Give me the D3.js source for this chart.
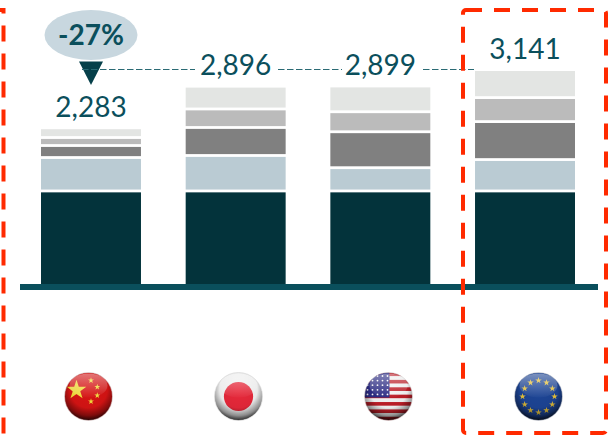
<!DOCTYPE html>
<html>
<head>
<meta charset="utf-8">
<style>
html,body{margin:0;padding:0;background:#fff;overflow:hidden}
svg{display:block}
text{font-family:Lato,"Open Sans",sans-serif}
</style>
<script src="https://cdn.jsdelivr.net/npm/d3@7/dist/d3.min.js"></script>
</head>
<body>
<svg id="chart" width="614" height="438"></svg>
<script>
// Stacked cost totals per region, bottom segment first
const regions = ["China", "Japan", "USA", "EU"];
const totals = [2283, 2896, 2899, 3141];
const segmentBase = [1372, 1372, 1372, 1372];
const segmentSecond = [493, 523, 343, 463];
const segmentThird = [177, 413, 530, 560];
const segmentFourth = [118, 273, 295, 354];
const segmentTop = [123, 315, 359, 392];
const segmentColors = ["#03333b", "#bacbd3", "#808080", "#bbbbbb", "#e3e5e3"];
const deltaLabel = "-27%";

const svg = d3.select("#chart");
const baseY = 284;
const segmentGap = 2.8;

const x = d3.scaleBand().domain(regions).range([41, 575]).paddingInner(0.309).paddingOuter(0);
const y = d3.scaleLinear().domain([0, 3141]).range([baseY, 71]);
const flagX = d3.scalePoint().domain(regions).range([88.5, 538.5]);

const seriesRows = regions.map((r, i) => ({
  region: r,
  s0: segmentBase[i], s1: segmentSecond[i], s2: segmentThird[i], s3: segmentFourth[i], s4: segmentTop[i]
}));
const stacked = d3.stack().keys(["s0", "s1", "s2", "s3", "s4"])(seriesRows);

const defs = svg.append("defs");

// Sphere shading shared by the flag badges
const shade = defs.append("radialGradient").attr("id", "shade")
  .attr("cx", "50%").attr("cy", "34%").attr("r", "68%");
shade.append("stop").attr("offset", "0%").attr("stop-color", "#000").attr("stop-opacity", 0);
shade.append("stop").attr("offset", "58%").attr("stop-color", "#000").attr("stop-opacity", 0.05);
shade.append("stop").attr("offset", "82%").attr("stop-color", "#000").attr("stop-opacity", 0.42);
shade.append("stop").attr("offset", "100%").attr("stop-color", "#000").attr("stop-opacity", 0.92);
const gloss = defs.append("linearGradient").attr("id", "gloss").attr("x1", 0).attr("x2", 0).attr("y1", 0).attr("y2", 1);
gloss.append("stop").attr("offset", "0%").attr("stop-color", "#fff").attr("stop-opacity", 0.42);
gloss.append("stop").attr("offset", "100%").attr("stop-color", "#fff").attr("stop-opacity", 0.02);

// Stacked bars, each segment inset so white gaps show between them
svg.append("g").selectAll("g").data(stacked).join("g")
  .attr("fill", (d, i) => segmentColors[i])
  .each(function (layer, li) {
    d3.select(this).selectAll("rect").data(layer).join("rect")
      .attr("x", d => x(d.data.region))
      .attr("width", x.bandwidth())
      .attr("y", d => y(d[1]) + (li === stacked.length - 1 ? 0 : segmentGap / 2))
      .attr("height", d => y(d[0]) - y(d[1]) - (li === 0 ? segmentGap / 2 : li === stacked.length - 1 ? segmentGap / 2 : segmentGap));
  });

// Baseline
svg.append("rect").attr("x", 20).attr("y", baseY).attr("width", 578).attr("height", 6).attr("fill", "#0a4f5c");

// Delta bubble and marker
svg.append("ellipse").attr("cx", 91).attr("cy", 35).attr("rx", 46.5).attr("ry", 25).attr("fill", "#c8d7df");
svg.append("text").attr("x", 91).attr("y", 45).attr("text-anchor", "middle")
  .attr("font-size", 28).attr("font-weight", 700).attr("fill", "#0b4f5c").text(deltaLabel);
svg.append("path").attr("d", d3.line()([[79, 61.5], [103, 61.5], [91, 85]]) + "Z").attr("fill", "#06404a");

// Dashed reference line from the delta marker to the top bar
const dashY = 69.5;
[[82, 195], [278, 342], [423, 474]].forEach(([a, b]) => {
  svg.append("line").attr("x1", a).attr("x2", b).attr("y1", dashY).attr("y2", dashY)
    .attr("stroke", "#2a6a74").attr("stroke-width", 1).attr("stroke-dasharray", "6.5 2.5");
});

// Total labels
svg.append("g").selectAll("text").data(regions).join("text")
  .attr("x", r => x(r) + x.bandwidth() / 2)
  .attr("y", (r, i) => y(totals[i]) - 12.5)
  .attr("text-anchor", "middle").attr("font-size", 28).attr("fill", "#0b4f5c")
  .text((r, i) => d3.format(",")(totals[i]));

// Flag badges
const R = 24;
const star = d3.symbol().type(d3.symbolStar);

function badge(region, paint) {
  const id = "clip-" + region;
  defs.append("clipPath").attr("id", id).append("circle").attr("r", R);
  const g = svg.append("g").attr("transform", `translate(${flagX(region)},396.5)`);
  const inner = g.append("g").attr("clip-path", `url(#${id})`);
  paint(inner);
  inner.append("circle").attr("r", R).attr("fill", "url(#shade)");
  inner.append("ellipse").attr("cy", -11).attr("rx", 19).attr("ry", 12).attr("fill", "url(#gloss)");
  g.append("circle").attr("r", R).attr("fill", "none").attr("stroke", "#cfcfcf").attr("stroke-width", 0.6);
}

const chinaStars = [[-12, -6.5, 120], [2.5, -16, 11], [8.8, -9.5, 11], [8.8, -1, 11], [2.5, 5, 11]];
badge("China", g => {
  g.append("rect").attr("x", -R).attr("y", -R).attr("width", 2 * R).attr("height", 2 * R).attr("fill", "#d81414");
  g.selectAll("path.s").data(chinaStars).join("path").attr("class", "s")
    .attr("d", d => star.size(d[2])())
    .attr("transform", d => `translate(${d[0]},${d[1]})`).attr("fill", "#f4de3c");
});

badge("Japan", g => {
  g.append("rect").attr("x", -R).attr("y", -R).attr("width", 2 * R).attr("height", 2 * R).attr("fill", "#f4f4f4");
  g.append("circle").attr("cy", 0).attr("r", 14.6).attr("fill", "#e8283a");
});

const usStripes = d3.range(13);
const usStarGrid = d3.cross(d3.range(5), d3.range(5));
badge("USA", g => {
  const stripe = d3.scaleBand().domain(usStripes).range([-R, R]);
  g.selectAll("rect.st").data(usStripes).join("rect").attr("class", "st")
    .attr("x", -R).attr("width", 2 * R).attr("y", d => stripe(d)).attr("height", stripe.bandwidth() + 0.2)
    .attr("fill", d => d % 2 ? "#f6f6f6" : "#c01e28");
  g.append("rect").attr("x", -R).attr("y", -R).attr("width", 25).attr("height", 25).attr("fill", "#2c2c86");
  g.selectAll("circle.us").data(usStarGrid).join("circle").attr("class", "us")
    .attr("cx", d => -R + 3 + d[0] * 5).attr("cy", d => -R + 3.5 + d[1] * 4.6).attr("r", 0.9).attr("fill", "#fff");
});

const euStars = d3.range(12);
badge("EU", g => {
  g.append("rect").attr("x", -R).attr("y", -R).attr("width", 2 * R).attr("height", 2 * R).attr("fill", "#1d4596");
  g.selectAll("path.e").data(euStars).join("path").attr("class", "e")
    .attr("d", star.size(13)())
    .attr("transform", d => {
      const a = d / 12 * 2 * Math.PI;
      return `translate(${16 * Math.sin(a)},${-16 * Math.cos(a)})`;
    }).attr("fill", "#e8c33c");
});

// Red dashed highlight frames
svg.append("rect").attr("x", 463).attr("y", 10).attr("width", 143).attr("height", 423).attr("rx", 3)
  .attr("fill", "none").attr("stroke", "#ff2a00").attr("stroke-width", 4).attr("stroke-dasharray", "16 12");
svg.append("path").attr("d", d3.line()([[-2, 10], [3.5, 10], [3.5, 438]]))
  .attr("fill", "none").attr("stroke", "#ff2a00").attr("stroke-width", 4)
  .attr("stroke-dasharray", "16 12").attr("stroke-dashoffset", 7);
</script>
</body>
</html>
